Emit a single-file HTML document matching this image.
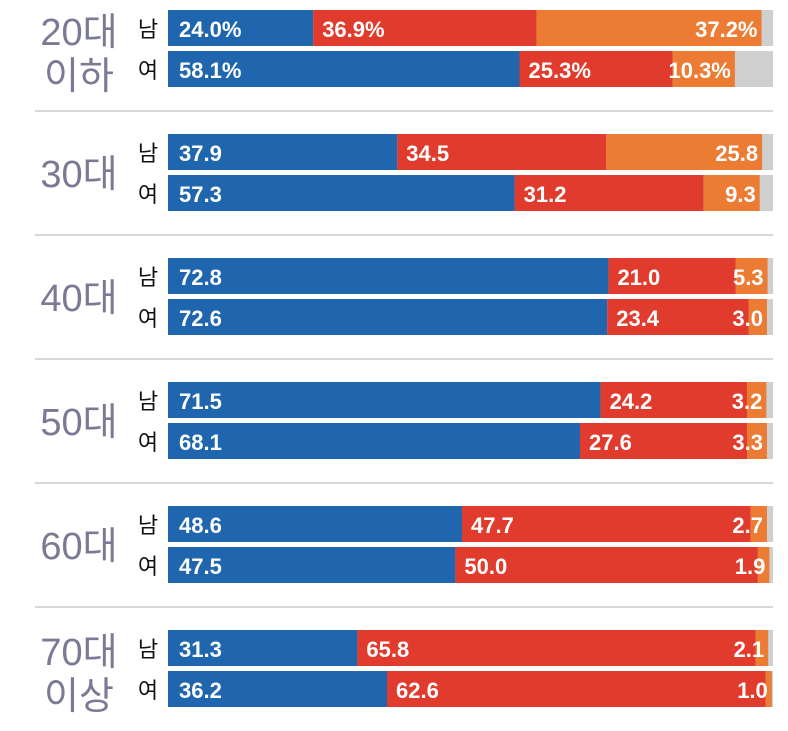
<!DOCTYPE html>
<html><head><meta charset="utf-8"><style>
html,body{margin:0;padding:0;background:#fff;}
svg{display:block;}
text{font-family:"Liberation Sans","Noto Sans CJK KR",sans-serif;}
</style></head><body>
<svg id="chart" width="788" height="731" viewBox="0 0 788 731" xmlns="http://www.w3.org/2000/svg"></svg>
<script>
const ageGroups = [["20대","이하"],["30대"],["40대"],["50대"],["60대"],["70대","이상"]];
const genders = ["남","여"];
const blueVals = [[24.0,58.1],[37.9,57.3],[72.8,72.6],[71.5,68.1],[48.6,47.5],[31.3,36.2]];
const redVals = [[36.9,25.3],[34.5,31.2],[21.0,23.4],[24.2,27.6],[47.7,50.0],[65.8,62.6]];
const orangeVals = [[37.2,10.3],[25.8,9.3],[5.3,3.0],[3.2,3.3],[2.7,1.9],[2.1,1.0]];
const pctSuffix = [true,false,false,false,false,false];

const svg = document.getElementById('chart');
const NS = 'http://www.w3.org/2000/svg';
const X0 = 168, W = 605, GROUP_Y0 = 10, GROUP_H = 124, BAR_GAP = 41, BAR_H = 36;
const xScale = v => v / 100 * W;
function el(tag, attrs, parent){ const e = document.createElementNS(NS, tag); for (const k in attrs) e.setAttribute(k, attrs[k]); (parent||svg).appendChild(e); return e; }

ageGroups.forEach((ag, gi) => {
  const gy = GROUP_Y0 + gi * GROUP_H;
  const g = el('g', {});
  
  
  if (gi > 0) {
    const sep = el('line', {x1:35, x2:773, y1:gy-23, y2:gy-23, stroke:'#d9d9d9', 'stroke-width':2}, g);
    
    
  }
  const lines = ag.length;
  ag.forEach((t, li) => {
    const cy = lines === 1 ? gy + 40 : gy + 22 + li * 44;
    const tx = el('text', {x: 79, y: cy + 13, 'text-anchor':'middle', 'font-size':38, fill:'#7a7a94'}, g);
    tx.textContent = t;
    
    
  });
  genders.forEach((gd, si) => {
    const y = gy + si * BAR_GAP;
    const gl = el('text', {x: 148, y: y + 27, 'text-anchor':'middle', 'font-size':22, fill:'#111'}, g);
    gl.textContent = gd;
    
    
    const b = blueVals[gi][si], r = redVals[gi][si], o = orangeVals[gi][si];
    const bg = el('rect', {x: X0, y: y, width: W, height: BAR_H, fill:'#cfcfcf'}, g);
    
    
    const bx = X0, rx = X0 + xScale(b), ox = rx + xScale(r), oEnd = ox + xScale(o);
    const rb = el('rect', {x: bx, y: y, width: xScale(b), height: BAR_H, fill:'#1f66ae'}, g);
    
    
    const rr = el('rect', {x: rx, y: y, width: xScale(r), height: BAR_H, fill:'#e13b2e'}, g);
    
    
    const ro = el('rect', {x: ox, y: y, width: xScale(o), height: BAR_H, fill:'#ec7b33'}, g);
    
    
    const suf = pctSuffix[gi] ? '%' : '';
    const fmt = v => v.toFixed(1) + suf;
    const t1 = el('text', {x: bx + 11, y: y + 27, 'font-size':22, 'font-weight':'bold', fill:'#fff'}, g);
    t1.textContent = fmt(b);
    
    
    const t2 = el('text', {x: rx + 9, y: y + 27, 'font-size':22, 'font-weight':'bold', fill:'#fff'}, g);
    t2.textContent = fmt(r);
    
    
    const t3 = el('text', {x: oEnd - 4, y: y + 27, 'text-anchor':'end', 'font-size':22, 'font-weight':'bold', fill:'#fff'}, g);
    t3.textContent = fmt(o);
    
    
  });
});
</script>
</body></html>
